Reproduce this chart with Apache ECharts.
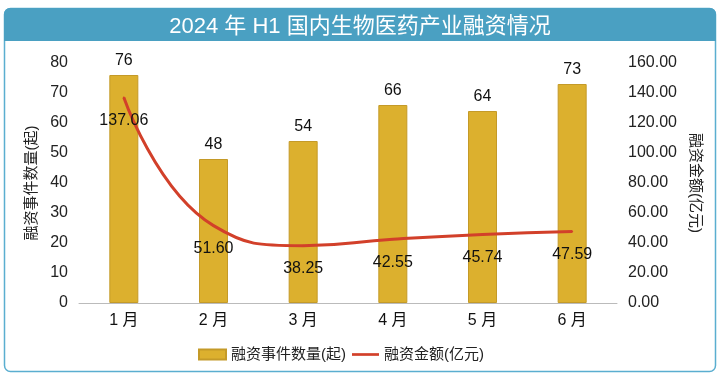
<!DOCTYPE html>
<html><head><meta charset="utf-8">
<script src="https://cdn.jsdelivr.net/npm/echarts@6/dist/echarts.min.js"></script>
<style>html,body{margin:0;padding:0;background:#fff}#c{width:720px;height:377px}</style>
</head><body><div id="c"></div>
<script>
const titleText = '2024 年 H1 国内生物医药产业融资情况';
const categories = ['1 月','2 月','3 月','4 月','5 月','6 月'];
const eventCounts = [76, 48, 54, 66, 64, 73];
const amounts = [137.06, 51.60, 38.25, 42.55, 45.74, 47.59];
const leftName = '融资事件数量(起)';
const rightName = '融资金额(亿元)';
const FONT = 'Liberation Sans, Arial, "Noto Sans CJK SC", sans-serif';

const chart = echarts.init(document.getElementById('c'), null, {renderer:'canvas'});
chart.setOption({
  animation:false,
  backgroundColor:'#fff',
  textStyle:{fontFamily:FONT},
  graphic:[
    {type:'rect', shape:{x:4.5,y:8.5,width:711,height:363,r:6}, style:{fill:'none',stroke:'#5aaed0',lineWidth:1.5}, z:0},
    {type:'rect', shape:{x:4,y:8,width:712,height:33,r:[6,6,0,0]}, style:{fill:'#4aa0c2'}, z:1}
  ],
  title:{text:titleText,left:'center',top:11,textStyle:{color:'#fff',fontSize:22,fontWeight:'normal',fontFamily:FONT}},
  grid:{left:79,right:103,top:63,bottom:74},
  legend:{
    left:193, top:342, itemGap:6, itemWidth:27, itemHeight:10,
    textStyle:{fontSize:15,color:'#222',fontFamily:FONT},
    data:[{name:leftName,icon:'rect'},{name:rightName,icon:'path://M0,0 L30,0 L30,3 L0,3 Z'}]
  },
  xAxis:{type:'category',data:categories,
    axisLine:{lineStyle:{color:'#bbb'}},axisTick:{show:false},
    axisLabel:{fontSize:16,color:'#111',margin:10}},
  yAxis:[
    {type:'value',min:0,max:80,interval:10,name:leftName,nameLocation:'middle',nameRotate:90,nameGap:39,
     nameTextStyle:{fontSize:15,color:'#222'},
     axisLine:{show:false},axisTick:{show:false},splitLine:{show:false},
     axisLabel:{fontSize:16,color:'#222',margin:11}},
    {type:'value',min:0,max:160,interval:20,name:rightName,nameLocation:'middle',nameRotate:-90,nameGap:66,
     nameTextStyle:{fontSize:15,color:'#222'},
     axisLine:{show:false},axisTick:{show:false},splitLine:{show:false},
     axisLabel:{fontSize:16,color:'#222',margin:11,formatter:v=>v.toFixed(2)}}
  ],
  series:[
    {name:leftName,type:'bar',data:eventCounts,barWidth:29,
     itemStyle:{color:'#dcb02e',borderColor:'#c49a28',borderWidth:1},
     label:{show:true,position:'top',fontSize:16,color:'#111',distance:6}},
    {name:rightName,type:'line',yAxisIndex:1,data:amounts,smooth:0.5,symbol:'circle',symbolSize:2,
     lineStyle:{color:'#d2402a',width:3},itemStyle:{color:'#d2402a'},
     label:{show:true,position:'bottom',distance:14,fontSize:16,color:'#111',formatter:p=>p.value.toFixed(2)}}
  ]
});
</script></body></html>
